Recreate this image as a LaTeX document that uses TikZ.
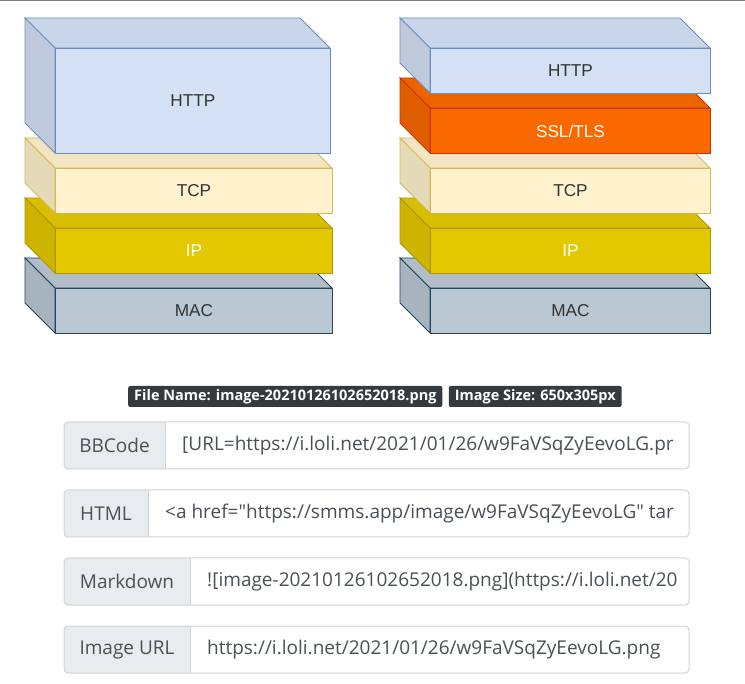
\documentclass[tikz,border=0pt]{standalone}
\usepackage{fontspec}
\setmainfont{Open Sans}
\newfontfamily\stackfont{Liberation Sans}
\usetikzlibrary{positioning}

\definecolor{httpfill}{HTML}{D4E1F5}
\definecolor{httpline}{HTML}{6C8EBF}
\definecolor{sslfill}{HTML}{FA6800}
\definecolor{sslline}{HTML}{C73500}
\definecolor{tcpfill}{HTML}{FFF2CC}
\definecolor{tcpline}{HTML}{D6B656}
\definecolor{ipfill}{HTML}{E3C800}
\definecolor{ipline}{HTML}{B09500}
\definecolor{macfill}{HTML}{BAC8D3}
\definecolor{macline}{HTML}{23445D}
\definecolor{darklabel}{HTML}{333333}
\definecolor{badgebg}{HTML}{343A40}
\definecolor{prepbg}{HTML}{E9ECEF}
\definecolor{boxline}{HTML}{CED4DA}
\definecolor{rowgrey}{HTML}{495057}
\definecolor{topline}{HTML}{7F7F7F}

% one slab of a stack: x, y (front face top left), width, height, colour, label, label colour, name
\newcommand{\slab}[8]{%
	\filldraw[fill=#5fill!95!black, draw=#5line, line width=0.9pt] (#1,#2) -- ++(-30,-30) -- ++(#3,0) -- ++(30,30) -- cycle;
	\filldraw[fill=#5fill!90!black, draw=#5line, line width=0.9pt] (#1,#2) -- ++(-30,-30) -- ++(0,#4) -- ++(30,30) -- cycle;
	\node[layer, fill=#5fill, draw=#5line, text=#7, minimum width=#3pt, minimum height=#4pt] (#8) at (#1,#2) {#6};
}

% one input row: y, width of the label part, label, value, name
\newcommand{\urlrow}[5]{%
	\begin{scope}
		\clip[rounded corners=4pt] (64,#1) rectangle (689,#1+47);
		\fill[white] (64,#1) rectangle (689,#1+47);
		\fill[prepbg] (64,#1) rectangle (64+#2,#1+47);
	\end{scope}
	\draw[boxline, line width=1pt, rounded corners=4pt] (64,#1) rectangle (689,#1+47);
	\draw[boxline, line width=1pt] (64+#2,#1) -- (64+#2,#1+47);
	\node[rowtext] (#5label) at (64+#2/2,#1+23.5) {#3};
	\node[rowtext, anchor=west] (#5value) at (81+#2,#1+23.5) {#4};
}

\begin{document}
\begin{tikzpicture}[x=1pt, y=-1pt,
	layer/.style={anchor=north west, inner sep=0pt, line width=0.9pt, font=\stackfont\fontsize{17.2}{19}\selectfont},
	badge/.style={fill=badgebg, text=white, inner xsep=6pt, inner ysep=0pt, minimum height=21pt, rounded corners=2pt, font=\bfseries\fontsize{14.5}{16}\selectfont},
	rowtext/.style={inner sep=0pt, text=rowgrey, font=\fontsize{19}{22}\selectfont}]
	\useasboundingbox (0,0) rectangle (745,684);
	\fill[topline] (0,0) rectangle (745,1.5);

	% left stack
	\slab{55}{288}{277}{45}{mac}{MAC}{darklabel}{lmac}
	\slab{55}{228}{277}{45}{ip}{IP}{white}{lip}
	\slab{55}{168}{277}{45}{tcp}{TCP}{darklabel}{ltcp}
	\slab{55}{48}{275}{105}{http}{HTTP}{darklabel}{lhttp}

	% right stack
	\slab{430}{288}{280}{45}{mac}{MAC}{darklabel}{rmac}
	\slab{430}{228}{280}{45}{ip}{IP}{white}{rip}
	\slab{430}{168}{280}{45}{tcp}{TCP}{darklabel}{rtcp}
	\slab{430}{108}{280}{45}{ssl}{SSL/TLS}{white}{rssl}
	\slab{430}{48}{280}{45}{http}{HTTP}{darklabel}{rhttp}

	% badges
	\node[badge, anchor=west] (fname) at (128,396.5) {File Name: image-20210126102652018.png};
	\node[badge, right=6pt of fname] (fsize) {Image Size: 650x305px};

	% link rows
	\urlrow{422}{101}{BBCode}{[URL=https://i.loli.net/2021/01/26/w9FaVSqZyEevoLG.pr}{bb}
	\urlrow{490}{84}{HTML}{<a href=\textquotedbl https://smms.app/image/w9FaVSqZyEevoLG\textquotedbl{} tar}{html}
	\urlrow{558}{126}{Markdown}{![image-20210126102652018.png](https://i.loli.net/20}{md}
	\urlrow{626}{126}{Image URL}{https://i.loli.net/2021/01/26/w9FaVSqZyEevoLG.png}{url}
\end{tikzpicture}
\end{document}
